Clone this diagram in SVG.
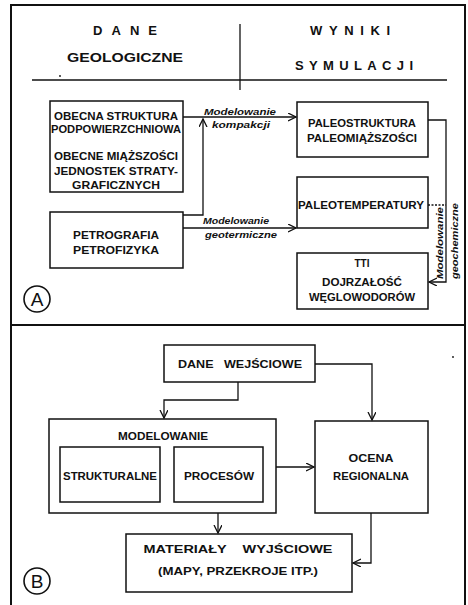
<svg xmlns="http://www.w3.org/2000/svg" width="468" height="605" viewBox="0 0 468 605">
<style>
.bg{fill:#fff}
.frame{stroke:#111;stroke-width:2;fill:none}
.box{stroke:#111;stroke-width:1.5;fill:#fff}
.ln{stroke:#111;stroke-width:1.3;fill:none}
.t{font-family:"Liberation Sans",Arial,sans-serif;font-weight:bold;font-size:10px;fill:#111;text-anchor:middle}
.h{font-family:"Liberation Sans",Arial,sans-serif;font-weight:bold;font-size:13px;fill:#111;text-anchor:start}
.lab{font-family:"Liberation Sans",Arial,sans-serif;font-weight:bold;font-style:italic;font-size:9px;fill:#111;text-anchor:middle}
.c{font-family:"Liberation Sans",Arial,sans-serif;font-size:19px;fill:#111;text-anchor:middle}
</style>
<defs>
<marker id="arr" markerUnits="userSpaceOnUse" markerWidth="10" markerHeight="10" refX="8" refY="4" orient="auto">
<path d="M0,0 L8,4 L0,8" fill="none" stroke="#111" stroke-width="1.3"/>
</marker>
</defs>
<rect class="bg" x="0" y="0" width="468" height="605"/>
<g id="frame">
<path class="frame" d="M11,605 V5 H465 V605"/>
<path class="frame" d="M11,325 H465"/>
<path class="ln" d="M240,24 V90"/>
<path class="ln" d="M32,80 H447"/>
<circle cx="60" cy="76" r="0.9" fill="#111"/>
<circle cx="453" cy="357" r="0.9" fill="#111"/>
</g>
<g id="header-left">
<text class="h" x="93" y="35" textLength="64" lengthAdjust="spacing">DANE</text>
<text class="h" x="67" y="62" textLength="116" lengthAdjust="spacingAndGlyphs">GEOLOGICZNE</text>
</g>
<g id="header-right">
<text class="h" x="310" y="35" textLength="80" lengthAdjust="spacing">WYNIKI</text>
<text class="h" x="295" y="70" textLength="118" lengthAdjust="spacing">SYMULACJI</text>
</g>
<g id="obecna">
<rect class="box" x="50" y="101" width="133" height="91"/>
<text class="t" x="116" y="120" textLength="124" lengthAdjust="spacingAndGlyphs">OBECNA STRUKTURA</text>
<text class="t" x="116" y="133" textLength="130" lengthAdjust="spacingAndGlyphs">PODPOWIERZCHNIOWA</text>
<text class="t" x="116" y="160" textLength="124" lengthAdjust="spacingAndGlyphs">OBECNE MIĄŻSZOŚCI</text>
<text class="t" x="116" y="175" textLength="124" lengthAdjust="spacingAndGlyphs">JEDNOSTEK STRATY-</text>
<text class="t" x="116" y="189" textLength="88" lengthAdjust="spacingAndGlyphs">GRAFICZNYCH</text>
</g>
<g id="petrografia">
<rect class="box" x="50" y="212" width="133" height="56"/>
<text class="t" x="116" y="239" textLength="86" lengthAdjust="spacingAndGlyphs">PETROGRAFIA</text>
<text class="t" x="116" y="254" textLength="86" lengthAdjust="spacingAndGlyphs">PETROFIZYKA</text>
</g>
<g id="paleostruktura">
<rect class="box" x="297" y="102" width="131" height="55"/>
<text class="t" x="362" y="127" textLength="108" lengthAdjust="spacingAndGlyphs">PALEOSTRUKTURA</text>
<text class="t" x="362" y="142" textLength="110" lengthAdjust="spacingAndGlyphs">PALEOMIĄŻSZOŚCI</text>
</g>
<g id="paleotemperatury">
<rect class="box" x="297" y="177" width="131" height="51"/>
<text class="t" x="361" y="209" textLength="126" lengthAdjust="spacingAndGlyphs">PALEOTEMPERATURY</text>
</g>
<g id="tti">
<rect class="box" x="297" y="253" width="131" height="56"/>
<text class="t" x="362" y="267">TTI</text>
<text class="t" x="362" y="286" textLength="80" lengthAdjust="spacingAndGlyphs">DOJRZAŁOŚĆ</text>
<text class="t" x="362" y="301" textLength="106" lengthAdjust="spacingAndGlyphs">WĘGLOWODORÓW</text>
</g>
<g id="dane-wejsciowe">
<rect class="box" x="164" y="345" width="151" height="37"/>
<text class="t" x="240" y="368" textLength="124" lengthAdjust="spacingAndGlyphs" xml:space="preserve">DANE   WEJŚCIOWE</text>
</g>
<g id="modelowanie">
<rect class="box" x="49" y="419" width="227" height="94"/>
<text class="t" x="163" y="440" textLength="90" lengthAdjust="spacingAndGlyphs">MODELOWANIE</text>
</g>
<g id="strukturalne">
<rect class="box" x="60" y="447" width="100" height="55"/>
<text class="t" x="110" y="480" textLength="94" lengthAdjust="spacingAndGlyphs">STRUKTURALNE</text>
</g>
<g id="procesow">
<rect class="box" x="174" y="447" width="89" height="55"/>
<text class="t" x="219" y="480" textLength="70" lengthAdjust="spacingAndGlyphs">PROCESÓW</text>
</g>
<g id="ocena">
<rect class="box" x="315" y="421" width="113" height="92"/>
<text class="t" x="371" y="462" textLength="45" lengthAdjust="spacingAndGlyphs">OCENA</text>
<text class="t" x="371" y="480" textLength="76" lengthAdjust="spacingAndGlyphs">REGIONALNA</text>
</g>
<g id="materialy">
<rect class="box" x="126" y="534" width="226" height="58"/>
<text class="t" x="238" y="553" textLength="189" lengthAdjust="spacingAndGlyphs" xml:space="preserve">MATERIAŁY    WYJŚCIOWE</text>
<text class="t" x="238" y="575" textLength="160" lengthAdjust="spacingAndGlyphs">(MAPY, PRZEKROJE ITP.)</text>
</g>
<g id="label-a">
<circle cx="37" cy="299" r="13" fill="none" stroke="#111" stroke-width="1.6"/>
<text class="c" x="37" y="306">A</text>
</g>
<g id="label-b">
<circle cx="37" cy="581" r="13" fill="none" stroke="#111" stroke-width="1.6"/>
<text class="c" x="37" y="588">B</text>
</g>
<g id="connectors">
<path class="ln" d="M183,117 H296" marker-end="url(#arr)"/>
<path class="ln" d="M183,215 H203 V119" marker-end="url(#arr)"/>
<path class="ln" d="M183,228 H296" marker-end="url(#arr)"/>
<path class="ln" d="M428,120 H446 V282 H429" marker-end="url(#arr)"/>
<path class="ln" d="M428,205 H446" stroke-dasharray="2,1.5"/>
<path class="ln" d="M238,382 V400 H164 V418" marker-end="url(#arr)"/>
<path class="ln" d="M315,364 H372 V420" marker-end="url(#arr)"/>
<path class="ln" d="M276,467 H314" marker-end="url(#arr)"/>
<path class="ln" d="M218,513 V533" marker-end="url(#arr)"/>
<path class="ln" d="M371,513 V563 H353" marker-end="url(#arr)"/>
<text class="lab" x="240" y="115" textLength="72" lengthAdjust="spacingAndGlyphs">Modelowanie</text>
<text class="lab" x="241" y="128" textLength="58" lengthAdjust="spacingAndGlyphs">kompakcji</text>
<text class="lab" x="236" y="224" textLength="66" lengthAdjust="spacingAndGlyphs">Modelowanie</text>
<text class="lab" x="241" y="238" textLength="72" lengthAdjust="spacingAndGlyphs">geotermiczne</text>
<text class="lab" transform="translate(443,243) rotate(-90)" x="0" y="0" textLength="72" lengthAdjust="spacingAndGlyphs">Modelowanie</text>
<text class="lab" transform="translate(458,241) rotate(-90)" x="0" y="0" textLength="76" lengthAdjust="spacingAndGlyphs">geochemiczne</text>
</g>
</svg>
